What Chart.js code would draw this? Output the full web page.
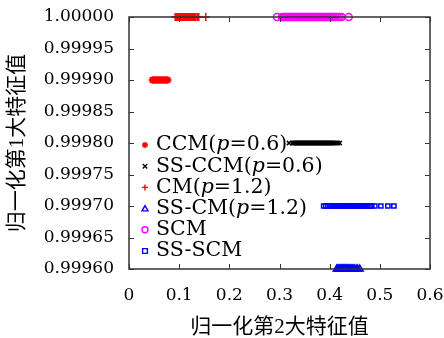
<!DOCTYPE html>
<html>
<head>
<meta charset="utf-8">
<script src="https://cdn.jsdelivr.net/npm/chart.js@4/dist/chart.umd.min.js"></script>
<style>
  html, body { margin: 0; padding: 0; background: #fff; }
  #wrap { width: 444px; height: 338px; }
</style>
</head>
<body>
<div id="wrap"><canvas id="chart" width="444" height="338"></canvas></div>
<script>
// series values (x = 2nd eigenvalue, y = 1st eigenvalue)
const ccmX = [0.046, 0.047, 0.049, 0.050, 0.052, 0.053, 0.055, 0.056, 0.057, 0.059, 0.060, 0.061, 0.063, 0.064, 0.066, 0.067, 0.069, 0.070, 0.072, 0.073, 0.075, 0.076, 0.078];
const ccmY = 0.99990;
const ssccmX = [0.319, 0.326, 0.328, 0.330, 0.332, 0.334, 0.336, 0.338, 0.340, 0.342, 0.344, 0.346, 0.348, 0.350, 0.352, 0.354, 0.356, 0.358, 0.360, 0.362, 0.364, 0.366, 0.368, 0.370, 0.372, 0.374, 0.376, 0.378, 0.380, 0.382, 0.384, 0.386, 0.388, 0.390, 0.392, 0.394, 0.396, 0.398, 0.400, 0.402, 0.404, 0.406, 0.409, 0.412, 0.416, 0.420];
const ssccmY = 0.99980;
const cmX = [0.092, 0.094, 0.096, 0.098, 0.100, 0.102, 0.104, 0.106, 0.108, 0.110, 0.112, 0.114, 0.116, 0.118, 0.120, 0.122, 0.124, 0.126, 0.128, 0.130, 0.133, 0.136, 0.139, 0.153];
const cmY = 1.00000;
const sscmX = [0.414, 0.416, 0.417, 0.419, 0.420, 0.422, 0.423, 0.425, 0.426, 0.428, 0.429, 0.431, 0.432, 0.434, 0.435, 0.437, 0.438, 0.440, 0.442, 0.444, 0.446, 0.448, 0.450, 0.453, 0.456, 0.460];
const sscmY = 0.99960;
const scmX = [0.295, 0.305, 0.308, 0.310, 0.313, 0.315, 0.318, 0.320, 0.323, 0.325, 0.328, 0.330, 0.333, 0.335, 0.338, 0.340, 0.343, 0.345, 0.348, 0.350, 0.353, 0.355, 0.358, 0.360, 0.363, 0.365, 0.368, 0.370, 0.373, 0.375, 0.378, 0.380, 0.383, 0.385, 0.388, 0.390, 0.393, 0.395, 0.398, 0.400, 0.403, 0.405, 0.408, 0.412, 0.416, 0.420, 0.424, 0.438];
const scmY = 1.00000;
const ssscmX = [0.388, 0.392, 0.396, 0.400, 0.403, 0.405, 0.408, 0.410, 0.413, 0.415, 0.418, 0.420, 0.423, 0.425, 0.428, 0.430, 0.433, 0.435, 0.438, 0.440, 0.443, 0.445, 0.448, 0.450, 0.453, 0.455, 0.458, 0.460, 0.463, 0.465, 0.468, 0.470, 0.473, 0.476, 0.480, 0.484, 0.490, 0.502, 0.516, 0.528];
const ssscmY = 0.99970;

// legend labels: [normal, italic, normal]
const legendParts = [
  ['CCM(', 'p', '=0.6)'],
  ['SS-CCM(', 'p', '=0.6)'],
  ['CM(', 'p', '=1.2)'],
  ['SS-CM(', 'p', '=1.2)'],
  ['SCM', '', ''],
  ['SS-SCM', '', '']
];
const xTitle = '归一化第2大特征值';
const yTitle = '归一化第1大特征值';

const serif = "'DejaVu Serif', 'Liberation Serif', 'Noto Sans CJK SC', serif";
const cjk = "'Liberation Serif', 'Noto Sans CJK SC', serif";

function pts(xs, y) {
  return xs.map(x => ({ x: x, y: y }));
}

function makeSet(label, xs, y, style, color, r) {
  return {
    label: label,
    data: pts(xs, y),
    showLine: false,
    pointStyle: style,
    pointRadius: r,
    pointHoverRadius: r,
    pointBorderWidth: 1.5,
    borderColor: color,
    backgroundColor: 'rgba(0,0,0,0)',
    pointBackgroundColor: 'rgba(0,0,0,0)',
    pointBorderColor: color,
    clip: false
  };
}

const datasets = [
  makeSet('CCM', ccmX, ccmY, 'star', '#ff0000', 3.5),
  makeSet('SS-CCM', ssccmX, ssccmY, 'crossRot', '#000000', 3),
  makeSet('CM', cmX, cmY, 'cross', '#ff0000', 4),
  makeSet('SS-CM', sscmX, sscmY, 'triangle', '#0000ff', 4),
  makeSet('SCM', scmX, scmY, 'circle', '#ff00ff', 3.5),
  makeSet('SS-SCM', ssscmX, ssscmY, 'rect', '#0000ff', 3)
];

// draws a small legend marker
function drawMarker(ctx, style, color, x, y, r) {
  ctx.save();
  ctx.strokeStyle = color;
  ctx.lineWidth = 1.4;
  ctx.beginPath();
  if (style === 'star' || style === 'cross') {
    ctx.moveTo(x - r, y); ctx.lineTo(x + r, y);
    ctx.moveTo(x, y - r); ctx.lineTo(x, y + r);
  }
  if (style === 'star' || style === 'crossRot') {
    const d = r * 0.75;
    ctx.moveTo(x - d, y - d); ctx.lineTo(x + d, y + d);
    ctx.moveTo(x - d, y + d); ctx.lineTo(x + d, y - d);
  }
  if (style === 'triangle') {
    ctx.moveTo(x, y - r); ctx.lineTo(x + r, y + r * 0.75); ctx.lineTo(x - r, y + r * 0.75); ctx.closePath();
  }
  if (style === 'circle') ctx.arc(x, y, r, 0, Math.PI * 2);
  if (style === 'rect') ctx.rect(x - r * 0.8, y - r * 0.8, r * 1.6, r * 1.6);
  ctx.stroke();
  ctx.restore();
}

// frame with inward ticks on all four sides, plus the legend
const framePlugin = {
  id: 'frame',
  afterDatasetsDraw(chart) {
    const ctx = chart.ctx;
    const a = chart.chartArea;
    const xs = chart.scales.x, ys = chart.scales.y;
    ctx.save();
    ctx.strokeStyle = '#333';
    ctx.lineWidth = 1.5;
    ctx.strokeRect(a.left, a.top, a.right - a.left, a.bottom - a.top);
    ctx.lineWidth = 1;
    ctx.beginPath();
    xs.ticks.forEach(t => {
      const px = Math.round(xs.getPixelForValue(t.value)) + 0.5;
      ctx.moveTo(px, a.bottom); ctx.lineTo(px, a.bottom - 5);
      ctx.moveTo(px, a.top); ctx.lineTo(px, a.top + 5);
    });
    ys.ticks.forEach(t => {
      const py = Math.round(ys.getPixelForValue(t.value)) + 0.5;
      ctx.moveTo(a.left, py); ctx.lineTo(a.left + 5, py);
      ctx.moveTo(a.right, py); ctx.lineTo(a.right - 5, py);
    });
    ctx.stroke();

    // legend
    const lx = 145, ly0 = 145, dy = 21.2;
    ctx.textBaseline = 'middle';
    ctx.fillStyle = '#000';
    legendParts.forEach((parts, i) => {
      const ds = chart.data.datasets[i];
      const y = ly0 + i * dy;
      drawMarker(ctx, ds.pointStyle, ds.borderColor, lx, y, 3);
      let x = 156;
      parts.forEach((s, j) => {
        if (!s) return;
        ctx.font = (j === 1 ? 'italic ' : '') + '20.5px ' + serif;
        ctx.fillText(s, x, y);
        x += ctx.measureText(s).width;
      });
    });
    ctx.restore();
  }
};

new Chart(document.getElementById('chart'), {
  type: 'scatter',
  data: { datasets: datasets },
  plugins: [framePlugin],
  options: {
    responsive: false,
    animation: false,
    layout: { padding: { top: 17, right: 14, left: 0, bottom: 0 } },
    plugins: { legend: { display: false }, tooltip: { enabled: false } },
    scales: {
      x: {
        type: 'linear',
        min: 0,
        max: 0.6,
        grid: { drawOnChartArea: false, drawTicks: false },
        border: { display: false },
        ticks: {
          stepSize: 0.1,
          padding: 16,
          color: '#000',
          font: { family: serif, size: 17 },
          maxRotation: 0,
          callback: v => (Math.abs(v) < 1e-9 ? '0' : v.toFixed(1))
        },
        title: {
          display: true,
          text: xTitle,
          color: '#000',
          font: { family: cjk, size: 21, lineHeight: 1 },
          padding: { top: 0, bottom: 0 }
        },
        afterFit: s => { s.height = 69; s.paddingLeft = 0; s.paddingRight = 0; }
      },
      y: {
        type: 'linear',
        min: 0.9996,
        max: 1.0,
        grid: { drawOnChartArea: false, drawTicks: false },
        border: { display: false },
        ticks: {
          stepSize: 0.00005,
          padding: 15,
          color: '#000',
          font: { family: serif, size: 17 },
          callback: v => v.toFixed(5)
        },
        title: {
          display: true,
          text: yTitle,
          color: '#000',
          font: { family: cjk, size: 21, lineHeight: 1 },
          padding: { top: 7, bottom: 0 }
        },
        afterFit: s => { s.width = 129; s.paddingTop = 0; s.paddingBottom = 0; }
      }
    }
  }
});
</script>
</body>
</html>
